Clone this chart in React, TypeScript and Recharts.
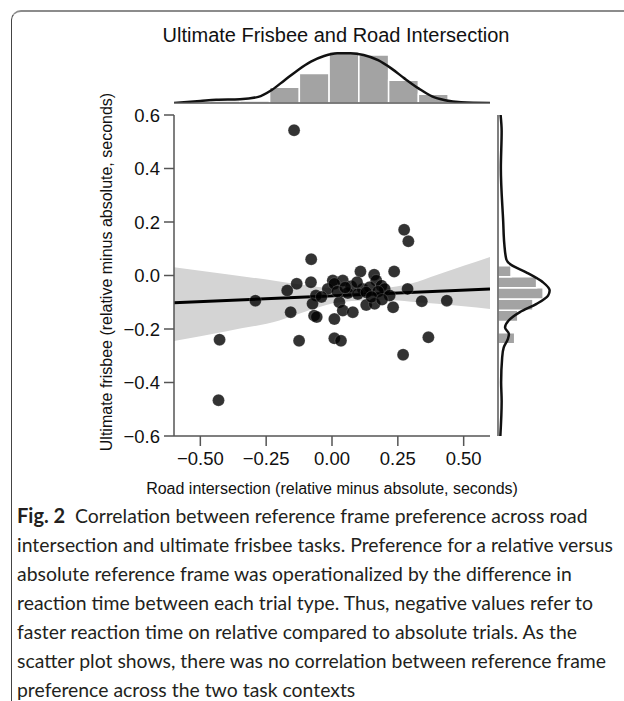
import React from 'react';
import {
  ComposedChart,
  Scatter,
  Line,
  Area,
  XAxis,
  YAxis,
  ReferenceArea,
} from 'recharts';

// scatter points: road intersection (x) vs ultimate frisbee (y)
const roadDiff = [
  -0.144, 0.274, 0.29, -0.079, 0.108, 0.236, 0.16, -0.134, -0.08, 0.003,
  0.041, 0.168, 0.188, -0.17, -0.016, 0.009, 0.073, 0.117, 0.143, 0.2,
  0.287, -0.061, 0.06, 0.098, 0.13, 0.175, 0.219, 0.341, -0.074, 0.028,
  0.13, 0.162, 0.232, -0.157, -0.068, 0.041, 0.079, 0.009, -0.125, 0.009,
  0.034, 0.366, -0.291, -0.427, -0.431, 0.27, 0.436, -0.058, 0.02, 0.05,
  0.15, 0.19, 0.095, -0.04,
];
const frisbeeDiff = [
  0.543, 0.171, 0.128, 0.061, 0.015, 0.015, 0.003, -0.031, -0.025, -0.019,
  -0.019, -0.019, -0.038, -0.056, -0.05, -0.031, -0.04, -0.05, -0.044, -0.05,
  -0.05, -0.075, -0.065, -0.069, -0.063, -0.06, -0.075, -0.096, -0.106, -0.1,
  -0.11, -0.106, -0.119, -0.137, -0.15, -0.131, -0.137, -0.163, -0.244, -0.235,
  -0.244, -0.231, -0.094, -0.24, -0.466, -0.296, -0.094, -0.155, -0.06, -0.045,
  -0.08, -0.09, -0.025, -0.08,
];

// regression fit and confidence band
const fitX = [-0.6, 0.6];
const fitY = [-0.102, -0.05];
const bandX = [-0.6, -0.4, -0.2, -0.1, 0.0, 0.1, 0.2, 0.3, 0.4, 0.5, 0.6];
const bandLow = [-0.245, -0.208, -0.168, -0.135, -0.105, -0.094, -0.092, -0.098, -0.106, -0.115, -0.125];
const bandHigh = [0.031, 0.005, -0.022, -0.036, -0.048, -0.052, -0.047, -0.03, 0.003, 0.036, 0.069];

// top marginal (road intersection) histogram + kde
const topEdges = [-0.463, -0.35, -0.237, -0.124, -0.011, 0.102, 0.215, 0.328, 0.441];
const topDensity = [0.08, 0.08, 0.61, 1.15, 2.0, 1.87, 0.89, 0.34];
const topKdeX = [-0.6, -0.5, -0.44, -0.35, -0.28, -0.23, -0.18, -0.13, -0.08, -0.03, 0.02, 0.07, 0.12, 0.175, 0.225, 0.275, 0.33, 0.38, 0.43, 0.49, 0.6];
const topKdeY = [0.0, 0.08, 0.13, 0.15, 0.24, 0.5, 0.89, 1.28, 1.61, 1.83, 1.94, 1.94, 1.87, 1.67, 1.35, 0.96, 0.56, 0.26, 0.11, 0.03, 0.0];

// right marginal (ultimate frisbee) histogram + kde
const rightEdges = [-0.255, -0.214, -0.172, -0.13, -0.088, -0.046, -0.005, 0.036];
const rightDensity = [3.2, 0, 3.8, 6.7, 8.65, 7.4, 2.5];
const rightKdeY = [-0.6, -0.47, -0.4, -0.306, -0.269, -0.237, -0.219, -0.194, -0.169, -0.137, -0.106, -0.075, -0.056, -0.025, 0.012, 0.04, 0.06, 0.12, 0.2, 0.4, 0.54, 0.6];
const rightKdeD = [0.45, 0.7, 0.6, 0.8, 1.1, 1.9, 2.1, 1.35, 2.0, 4.2, 7.4, 9.6, 9.9, 8.6, 5.4, 2.5, 1.6, 1.2, 1.0, 0.55, 0.7, 0.5];

const xTicks = [-0.5, -0.25, 0, 0.25, 0.5];
const yTicks = [-0.6, -0.4, -0.2, 0, 0.2, 0.4, 0.6];

const axisColor = '#555';
const labelFont = 'Liberation Sans, Arial, sans-serif';
const tickFont = { fill: '#111', fontSize: 18.5, fontFamily: labelFont };
const minus = (s: string) => s.replace('-', '\u2212');

const points = roadDiff.map((x, i) => ({ x, y: frisbeeDiff[i] }));
const fitData = fitX.map((x, i) => ({ x, y: fitY[i] }));
const bandData = bandX.map((x, i) => ({ x, band: [bandLow[i], bandHigh[i]] }));
const topKde = topKdeX.map((x, i) => ({ x, y: topKdeY[i] }));
const rightKde = rightKdeY.map((y, i) => ({ x: rightKdeD[i], y }));

const captionLines = [
  'Correlation between reference frame preference across road',
  'intersection and ultimate frisbee tasks. Preference for a relative versus',
  'absolute reference frame was operationalized by the difference in',
  'reaction time between each trial type. Thus, negative values refer to',
  'faster reaction time on relative compared to absolute trials. As the',
  'scatter plot shows, there was no correlation between reference frame',
  'preference across the two task contexts',
];

const Dot = (props: any) => (
  <circle cx={props.cx} cy={props.cy} r={6} fill="#000" fillOpacity={0.8} stroke="#fff" strokeOpacity={0.35} strokeWidth={0.5} />
);

export default function App() {
  return (
    <div style={{ position: 'absolute', left: 0, top: 0, width: 624, height: 701, overflow: 'hidden', background: '#fff' }}>
      <div
        style={{
          position: 'absolute', left: 11, top: 10, width: 700, height: 800,
          borderTop: '2px solid #8c8c8c', borderLeft: '1.5px solid #444', borderTopLeftRadius: 10,
        }}
      />
      <div style={{ position: 'absolute', left: 136, width: 400, top: 23, textAlign: 'center', fontFamily: labelFont, fontSize: 20, lineHeight: '24px', color: '#111', whiteSpace: 'nowrap' }}>
        Ultimate Frisbee and Road Intersection
      </div>

      {/* top marginal */}
      <div style={{ position: 'absolute', left: 174, top: 44 }}>
        <ComposedChart width={316} height={71} margin={{ top: 0, right: 0, bottom: 0, left: 0 }}>
          <XAxis type="number" dataKey="x" domain={[-0.6, 0.6]} ticks={xTicks} tick={false} tickSize={10}
            height={12} stroke={axisColor} axisLine={{ stroke: axisColor, strokeWidth: 1.5 }} tickLine={{ stroke: axisColor, strokeWidth: 1.5 }} allowDataOverflow />
          <YAxis type="number" dataKey="y" domain={[0, 2.3]} hide allowDataOverflow />
          {topDensity.map((d, i) => (
            <ReferenceArea key={i} x1={topEdges[i]} x2={topEdges[i + 1]} y1={0} y2={d}
              fill="#a3a3a3" fillOpacity={1} stroke="#fff" strokeWidth={1.5} />
          ))}
          <Line data={topKde} dataKey="y" type="monotone" stroke="#111" strokeWidth={2.5} dot={false} isAnimationActive={false} />
        </ComposedChart>
      </div>

      {/* main scatter */}
      <div style={{ position: 'absolute', left: 90, top: 105 }}>
        <ComposedChart width={400} height={381} margin={{ top: 10, right: 0, bottom: 0, left: 0 }}>
          <XAxis type="number" dataKey="x" domain={[-0.6, 0.6]} ticks={xTicks} height={50} tickSize={10} tickMargin={6}
            tickFormatter={(v: number) => minus(v.toFixed(2))} tick={tickFont}
            axisLine={{ stroke: axisColor, strokeWidth: 1.5 }} tickLine={{ stroke: axisColor, strokeWidth: 1.5 }} allowDataOverflow />
          <YAxis type="number" dataKey="y" domain={[-0.6, 0.6]} ticks={yTicks} width={84} tickSize={10} tickMargin={4}
            tickFormatter={(v: number) => minus(v.toFixed(1))} tick={tickFont}
            axisLine={{ stroke: axisColor, strokeWidth: 1.5 }} tickLine={{ stroke: axisColor, strokeWidth: 1.5 }} allowDataOverflow />
          <Area data={bandData} dataKey="band" type="monotone" fill="#d4d4d4" fillOpacity={1} stroke="none" isAnimationActive={false} />
          <Line data={fitData} dataKey="y" type="linear" stroke="#000" strokeWidth={3} dot={false} isAnimationActive={false} />
          <Scatter data={points} dataKey="y" shape={Dot} isAnimationActive={false} />
        </ComposedChart>
      </div>

      {/* right marginal */}
      <div style={{ position: 'absolute', left: 478, top: 105 }}>
        <ComposedChart width={80} height={331} margin={{ top: 10, right: 0, bottom: 0, left: 0 }}>
          <XAxis type="number" dataKey="x" domain={[0, 11.5]} hide allowDataOverflow />
          <YAxis type="number" dataKey="y" domain={[-0.6, 0.6]} ticks={yTicks} width={20} tickSize={9} tick={false}
            axisLine={{ stroke: axisColor, strokeWidth: 1.5 }} tickLine={{ stroke: axisColor, strokeWidth: 1.5 }} allowDataOverflow />
          {rightDensity.map((d, i) => (
            <ReferenceArea key={i} x1={0} x2={d} y1={rightEdges[i]} y2={rightEdges[i + 1]}
              fill="#a3a3a3" fillOpacity={d > 0 ? 1 : 0} stroke="#fff" strokeWidth={1.5} />
          ))}
          <Scatter data={rightKde} dataKey="y" shape={() => <g />} line={{ stroke: '#111', strokeWidth: 2.5 }}
            lineType="joint" lineJointType="monotoneY" isAnimationActive={false} />
        </ComposedChart>
      </div>

      <div style={{ position: 'absolute', left: 132, width: 400, top: 478, textAlign: 'center', fontFamily: labelFont, fontSize: 16, lineHeight: '22px', color: '#111', whiteSpace: 'nowrap' }}>
        Road intersection (relative minus absolute, seconds)
      </div>
      <div style={{ position: 'absolute', left: 107, top: 272, width: 0, height: 0 }}>
        <div style={{ position: 'absolute', left: -200, top: -11, width: 400, textAlign: 'center', transform: 'rotate(-90deg)', fontFamily: labelFont, fontSize: 16, color: '#111', whiteSpace: 'nowrap', lineHeight: '22px' }}>
          Ultimate frisbee (relative minus absolute, seconds)
        </div>
      </div>

      <div style={{ position: 'absolute', left: 17, top: 501, fontFamily: 'Lato, sans-serif', fontSize: 19.4, lineHeight: '29px', color: '#231f20' }}>
        {captionLines.map((line, i) => (
          <div key={i} style={{ whiteSpace: 'nowrap' }}>
            {i === 0 && <b style={{ fontSize: 20 }}>Fig. 2&nbsp; </b>}
            {line}
          </div>
        ))}
      </div>
    </div>
  );
}
